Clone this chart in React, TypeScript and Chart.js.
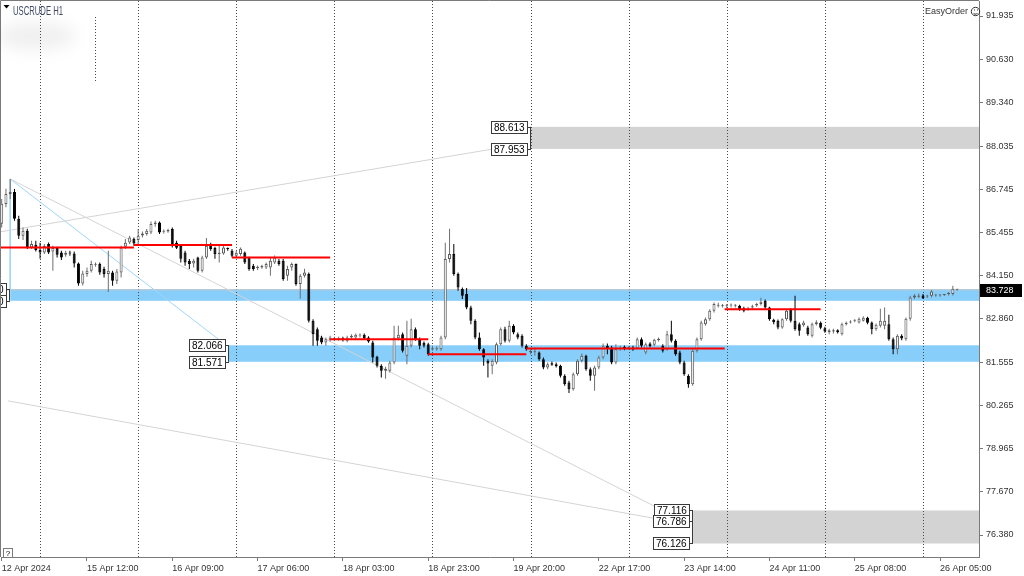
import React, { useEffect, useRef } from 'react';
import { Chart, registerables } from 'chart.js';

Chart.register(...registerables);

// USCRUDE H1, one bar per hour from 12 Apr 15:00 to 26 Apr 09:00 (23 bars a day, 01:00-23:00)
const opens = [
  85.71, 86.30, 86.60, 86.66, 85.86, 85.35, 85.50, 85.00, 85.08, 84.92,
  84.85, 85.10, 84.88, 84.98, 84.85, 84.78, 84.85, 84.82, 84.52, 83.92,
  84.20, 84.30, 84.48, 84.50, 84.35, 84.20, 84.25, 84.00, 84.25, 85.02,
  85.15, 85.26, 85.22, 85.36, 85.40, 85.45, 85.70, 85.75, 85.47, 85.48,
  85.55, 85.14, 85.05, 84.85, 84.60, 84.52, 84.70, 84.30, 84.70, 85.10,
  84.98, 84.80, 84.82, 84.96, 84.90, 84.75, 84.80, 84.85, 84.70, 84.45,
  84.38, 84.40, 84.40, 84.40, 84.55, 84.60, 84.60, 84.15, 84.40, 84.50,
  83.90, 84.15, 84.20, 82.80, 82.55, 82.30, 82.15, 82.22, 82.26, 82.24,
  82.28, 82.20, 82.30, 82.30, 82.36, 82.38, 82.30, 82.15, 81.72, 81.45,
  81.30, 81.30, 81.55, 82.28, 82.40, 81.75, 82.05, 82.55, 82.25, 82.14,
  82.10, 81.94, 81.95, 81.95, 82.30, 84.65, 84.80, 84.20, 83.75, 83.60,
  83.20, 82.80, 82.30, 81.95, 81.60, 81.45, 81.55, 82.10, 82.55, 82.20,
  82.65, 82.40, 82.35, 82.05, 81.86, 81.86, 81.85, 81.65, 81.40, 81.53,
  81.50, 81.45, 81.15, 80.95, 80.75, 81.20, 81.60, 81.75, 81.35, 81.15,
  81.40, 81.70, 82.05, 82.00, 81.55, 81.95, 82.02, 81.98, 82.00, 81.98,
  82.25, 81.85, 82.12, 82.08, 82.22, 82.05, 81.95, 82.40, 82.20, 81.85,
  81.55, 81.15, 80.90, 81.90, 82.25, 82.70, 82.85, 83.10, 83.25, 83.24,
  83.24, 83.26, 83.25, 83.25, 83.18, 83.14, 83.20, 83.26, 83.30, 83.40,
  83.20, 82.83, 82.80, 82.60, 82.85, 83.15, 82.80, 82.70, 82.67, 82.60,
  82.35, 82.70, 82.74, 82.58, 82.46, 82.48, 82.52, 82.40, 82.70, 82.75,
  82.80, 82.75, 82.80, 82.89, 82.75, 82.55, 82.65, 82.65, 82.70, 82.25,
  81.95, 82.35, 82.25, 82.86, 83.50, 83.52, 83.56, 83.53, 83.55, 83.56,
  83.56, 83.57, 83.60, 83.60, 83.73,
];
const highs = [
  86.45, 86.76, 87.05, 86.75, 85.95, 85.60, 85.56, 85.20, 85.20, 85.14,
  85.10, 85.15, 85.05, 85.02, 84.90, 84.90, 84.90, 84.88, 84.55, 84.30,
  84.40, 84.60, 84.55, 84.55, 84.42, 84.90, 84.30, 84.35, 85.05, 85.25,
  85.35, 85.30, 85.55, 85.48, 85.55, 85.78, 85.80, 85.78, 85.54, 85.56,
  85.60, 85.20, 85.10, 84.90, 84.65, 84.66, 84.72, 84.75, 85.28, 85.14,
  85.02, 85.05, 85.05, 85.00, 84.95, 84.90, 85.00, 84.88, 84.72, 84.50,
  84.46, 84.48, 84.55, 84.70, 84.76, 84.65, 84.65, 84.45, 84.55, 84.52,
  84.20, 84.36, 84.25, 82.85, 82.60, 82.35, 82.30, 82.35, 82.32, 82.32,
  82.32, 82.35, 82.40, 82.42, 82.42, 82.42, 82.34, 82.20, 81.75, 81.50,
  81.42, 81.60, 82.65, 82.65, 82.45, 82.80, 82.86, 82.60, 82.30, 82.18,
  82.14, 82.05, 82.04, 82.35, 85.14, 85.56, 85.10, 84.25, 83.80, 83.78,
  83.25, 82.85, 82.45, 81.98, 81.65, 81.65, 82.15, 82.60, 82.62, 82.80,
  82.70, 82.45, 82.40, 82.10, 81.95, 82.00, 81.88, 81.70, 81.55, 81.58,
  81.55, 81.48, 81.20, 81.00, 81.25, 81.65, 81.82, 81.78, 81.40, 81.45,
  81.75, 82.12, 82.12, 82.05, 82.10, 82.05, 82.06, 82.04, 82.05, 82.30,
  82.30, 82.15, 82.16, 82.26, 82.30, 82.10, 82.50, 82.80, 82.25, 81.90,
  81.60, 81.20, 81.95, 82.30, 82.80, 82.90, 83.15, 83.35, 83.34, 83.30,
  83.30, 83.32, 83.30, 83.28, 83.22, 83.22, 83.28, 83.34, 83.49, 83.44,
  83.22, 82.86, 82.84, 82.88, 83.15, 83.18, 83.55, 82.75, 82.80, 82.65,
  82.75, 82.82, 82.78, 82.62, 82.56, 82.56, 82.55, 82.74, 82.78, 82.82,
  82.85, 82.90, 82.94, 82.92, 82.78, 82.72, 83.16, 83.20, 82.98, 82.30,
  82.40, 82.40, 82.90, 83.55, 83.60, 83.62, 83.60, 83.58, 83.72, 83.60,
  83.60, 83.60, 83.66, 83.85, 83.76,
];
const lows = [
  85.60, 86.20, 86.45, 85.80, 85.25, 85.22, 84.95, 84.95, 84.88, 84.66,
  84.80, 84.80, 84.30, 84.70, 84.62, 84.72, 84.75, 84.40, 83.85, 83.86,
  84.12, 84.25, 84.42, 84.18, 84.10, 83.66, 83.85, 83.90, 84.10, 84.95,
  85.10, 85.05, 85.05, 85.30, 85.35, 85.40, 85.62, 85.40, 85.42, 85.44,
  85.00, 84.95, 84.55, 84.45, 84.35, 84.40, 84.25, 84.25, 84.65, 84.90,
  84.66, 84.55, 84.78, 84.90, 84.70, 84.70, 84.75, 84.50, 84.30, 84.30,
  84.32, 84.36, 84.35, 84.15, 84.50, 84.45, 84.00, 84.00, 84.30, 83.85,
  83.46, 84.10, 82.75, 82.05, 82.05, 82.10, 82.05, 82.18, 82.20, 82.20,
  82.18, 82.16, 82.26, 82.26, 82.30, 82.24, 82.14, 81.55, 81.40, 81.10,
  81.06, 81.25, 81.50, 82.22, 81.85, 81.50, 82.00, 82.20, 81.95, 82.00,
  81.75, 81.90, 81.90, 81.90, 82.25, 84.55, 84.15, 83.70, 83.45, 83.15,
  82.70, 82.25, 81.90, 81.45, 81.10, 81.20, 81.50, 82.05, 82.15, 82.15,
  82.40, 82.25, 82.00, 81.90, 81.80, 81.75, 81.60, 81.35, 81.35, 81.45,
  81.40, 81.10, 80.85, 80.64, 80.70, 81.15, 81.55, 81.30, 81.00, 80.70,
  81.35, 81.65, 81.80, 81.50, 81.50, 81.90, 81.92, 81.94, 81.90, 81.95,
  82.00, 81.80, 82.00, 82.04, 82.18, 81.85, 81.90, 82.15, 81.75, 81.50,
  81.15, 80.79, 80.85, 81.85, 82.20, 82.65, 82.80, 83.05, 83.20, 83.20,
  83.18, 83.20, 83.20, 83.10, 83.06, 83.10, 83.16, 83.22, 83.26, 83.16,
  82.80, 82.70, 82.55, 82.56, 82.80, 82.75, 82.50, 82.35, 82.62, 82.35,
  82.30, 82.66, 82.55, 82.44, 82.40, 82.42, 82.42, 82.36, 82.66, 82.72,
  82.76, 82.72, 82.78, 82.70, 82.40, 82.50, 82.60, 82.55, 82.20, 81.80,
  81.80, 82.22, 82.20, 82.80, 83.45, 83.48, 83.45, 83.48, 83.50, 83.52,
  83.52, 83.54, 83.56, 83.56, 83.70,
];
const closes = [
  86.31, 86.60, 86.66, 85.86, 85.35, 85.50, 85.00, 85.10, 84.92, 84.85,
  85.04, 84.85, 84.98, 84.78, 84.70, 84.84, 84.82, 84.52, 83.92, 84.22,
  84.30, 84.50, 84.50, 84.25, 84.20, 84.30, 84.00, 84.28, 85.00, 85.14,
  85.30, 85.12, 85.35, 85.42, 85.50, 85.70, 85.75, 85.45, 85.48, 85.52,
  85.05, 84.99, 84.66, 84.55, 84.50, 84.60, 84.30, 84.70, 85.05, 84.95,
  84.80, 84.84, 85.00, 84.95, 84.75, 84.84, 84.96, 84.55, 84.35, 84.35,
  84.42, 84.44, 84.50, 84.60, 84.70, 84.50, 84.05, 84.35, 84.50, 83.90,
  84.15, 84.25, 82.80, 82.40, 82.20, 82.15, 82.25, 82.30, 82.27, 82.28,
  82.22, 82.30, 82.35, 82.38, 82.36, 82.28, 82.18, 81.70, 81.45, 81.30,
  81.36, 81.55, 82.30, 82.38, 81.90, 82.05, 82.55, 82.25, 82.05, 82.05,
  81.80, 81.98, 81.98, 82.30, 84.65, 84.80, 84.20, 83.80, 83.55, 83.20,
  82.80, 82.30, 81.95, 81.70, 81.52, 81.60, 82.10, 82.55, 82.20, 82.65,
  82.45, 82.30, 82.05, 81.95, 81.90, 81.88, 81.65, 81.40, 81.50, 81.48,
  81.44, 81.15, 80.90, 80.75, 81.20, 81.60, 81.75, 81.35, 81.15, 81.40,
  81.70, 82.05, 81.98, 81.55, 81.95, 82.00, 81.96, 81.99, 81.94, 82.25,
  82.05, 82.10, 82.04, 82.23, 82.26, 81.90, 82.40, 82.20, 81.80, 81.55,
  81.20, 80.90, 81.90, 82.25, 82.75, 82.85, 83.10, 83.30, 83.28, 83.26,
  83.27, 83.27, 83.25, 83.14, 83.10, 83.17, 83.24, 83.30, 83.37, 83.20,
  82.85, 82.76, 82.60, 82.85, 83.10, 82.80, 82.55, 82.50, 82.75, 82.40,
  82.70, 82.76, 82.59, 82.48, 82.52, 82.52, 82.46, 82.70, 82.74, 82.78,
  82.80, 82.86, 82.89, 82.74, 82.55, 82.68, 82.80, 82.80, 82.25, 81.95,
  82.35, 82.27, 82.86, 83.50, 83.56, 83.56, 83.48, 83.53, 83.68, 83.56,
  83.56, 83.57, 83.63, 83.76, 83.73,
];

// axis
const priceTicks = [91.935, 90.63, 89.34, 88.035, 86.745, 85.455, 84.15, 82.86, 81.555, 80.265, 78.965, 77.67, 76.38];
const timeTickBars = [0, 20, 40, 60, 80, 100, 120, 140, 160, 180, 200, 220];
const timeTickLabels = [
  '12 Apr 2024', '15 Apr 12:00', '16 Apr 09:00', '17 Apr 06:00', '18 Apr 03:00', '18 Apr 23:00',
  '19 Apr 20:00', '22 Apr 17:00', '23 Apr 14:00', '24 Apr 11:00', '25 Apr 08:00', '26 Apr 05:00',
];
// first bar of each day (period separators)
const daySeparators = [9, 32, 55, 78, 101, 124, 147, 170, 193, 216];
const lastPrice = 83.728;

// red daily levels
const levelFromBar = [-0.16, 31, 54, 77, 100, 123, 169.5];
const levelToBar = [31, 54, 77, 100, 123, 169.5, 192];
const levelPrice = [85.0, 85.07, 84.7, 82.25, 81.8, 81.97, 83.15];

// rectangles (run to the right edge)
const zoneFromBar = [2, 53.3, 124, 162.1];
const zoneTop = [83.75, 82.066, 88.613, 77.116];
const zoneBottom = [83.4, 81.571, 87.953, 76.126];
const zoneLabels = [[83.75, 83.4], [82.066, 81.571], [88.613, 87.953], [77.116, 76.786, 76.126]];

// trend lines
const trendFromBar = [-0.16, 2, 1.5, 2, 2];
const trendFromPrice = [85.47, 87.05, 80.4, 87.05, 87.05];
const trendToBar = [115.2, 153.4, 153.4, 51.6, 2];
const trendToPrice = [87.95, 77.22, 76.87, 82.17, 83.75];

const X_MIN = -0.16;
const X_MAX = 229.13;
const Y_MIN = 75.721;
const Y_MAX = 92.385;

const ZONE_FILLS = ['#87cefa', '#87cefa', '#d3d3d3', '#d3d3d3'];
const TREND_COLORS = ['#d4d4d4', '#d4d4d4', '#d4d4d4', '#9fd6f8', '#9fd6f8'];
const FONT = "'Liberation Sans', Arial, sans-serif";

const drawingsPlugin = {
  id: 'mtDrawings',
  beforeDatasetsDraw(chart: any) {
    const { ctx, chartArea: a, scales } = chart;
    ctx.save();
    ctx.beginPath();
    ctx.rect(a.left, a.top, a.right - a.left, a.bottom - a.top);
    ctx.clip();
    zoneFromBar.forEach((b, k) => {
      const x0 = scales.x.getPixelForValue(b);
      const yt = scales.y.getPixelForValue(zoneTop[k]);
      const yb = scales.y.getPixelForValue(zoneBottom[k]);
      ctx.fillStyle = ZONE_FILLS[k];
      ctx.fillRect(x0, yt, a.right - x0, yb - yt);
    });
    ctx.strokeStyle = '#4a4a4a';
    ctx.lineWidth = 1;
    ctx.setLineDash([1, 2]);
    daySeparators.forEach((b) => {
      const x = Math.round(scales.x.getPixelForValue(b)) + 0.5;
      ctx.beginPath();
      ctx.moveTo(x, a.top);
      ctx.lineTo(x, a.bottom);
      ctx.stroke();
    });
    // short separator left in the title area
    ctx.beginPath();
    ctx.moveTo(95.5, 17);
    ctx.lineTo(95.5, 82);
    ctx.stroke();
    ctx.restore();
  },
  afterDatasetsDraw(chart: any) {
    const { ctx, scales } = chart;
    ctx.save();
    ctx.font = `10px ${FONT}`;
    ctx.textBaseline = 'middle';
    zoneFromBar.forEach((b, k) => {
      const x0 = Math.round(scales.x.getPixelForValue(b));
      const yt = scales.y.getPixelForValue(zoneTop[k]);
      const yb = scales.y.getPixelForValue(zoneBottom[k]);
      ctx.strokeStyle = '#3a3a3a';
      ctx.lineWidth = 1;
      ctx.beginPath();
      ctx.moveTo(x0 - 0.5, yt);
      ctx.lineTo(x0 - 0.5, yb);
      ctx.stroke();
      zoneLabels[k].forEach((p) => {
        const txt = p.toFixed(3);
        const w = Math.ceil(ctx.measureText(txt).width) + 5;
        const y = Math.round(scales.y.getPixelForValue(p));
        const xr = x0 - 4;
        ctx.fillStyle = '#ffffff';
        ctx.fillRect(xr - w, y - 6, w, 13);
        ctx.strokeStyle = '#3a3a3a';
        ctx.strokeRect(xr - w + 0.5, y - 5.5, w, 12);
        ctx.beginPath();
        ctx.moveTo(xr, y + 0.5);
        ctx.lineTo(x0, y + 0.5);
        ctx.stroke();
        ctx.fillStyle = '#000000';
        ctx.textAlign = 'left';
        ctx.fillText(txt, xr - w + 3, y + 1);
      });
    });
    ctx.restore();
  },
  afterDraw(chart: any) {
    const { ctx, chartArea: a, scales } = chart;
    ctx.save();
    // frame top / left
    ctx.strokeStyle = '#7a7a7a';
    ctx.lineWidth = 1;
    ctx.beginPath();
    ctx.moveTo(a.left - 0.5, a.bottom);
    ctx.lineTo(a.left - 0.5, a.top - 0.5);
    ctx.lineTo(a.right, a.top - 0.5);
    ctx.stroke();

    // blurred symbol caption
    ctx.save();
    ctx.filter = 'blur(8px)';
    ctx.fillStyle = 'rgba(0,0,0,0.06)';
    ctx.beginPath();
    ctx.ellipse(36, 36, 40, 14, 0, 0, Math.PI * 2);
    ctx.fill();
    ctx.restore();
    ctx.fillStyle = '#000';
    ctx.beginPath();
    ctx.moveTo(3.5, 5);
    ctx.lineTo(9.5, 5);
    ctx.lineTo(6.5, 8.5);
    ctx.closePath();
    ctx.fill();
    ctx.save();
    ctx.filter = 'blur(0.7px)';
    ctx.fillStyle = '#3f4a66';
    ctx.font = `13px ${FONT}`;
    ctx.textBaseline = 'middle';
    ctx.fillText('USCRUDE H1', 13, 11, 50);
    ctx.restore();

    // EasyOrder
    ctx.fillStyle = '#333';
    ctx.font = `9px ${FONT}`;
    ctx.textAlign = 'right';
    ctx.textBaseline = 'middle';
    ctx.fillText('EasyOrder', 968, 11.5);
    ctx.strokeStyle = '#333';
    ctx.beginPath();
    ctx.arc(975.5, 11.5, 4.2, 0, Math.PI * 2);
    ctx.stroke();
    ctx.beginPath();
    ctx.arc(975.5, 12, 2.2, 0.15 * Math.PI, 0.85 * Math.PI);
    ctx.stroke();
    ctx.fillStyle = '#333';
    ctx.fillRect(974, 9.5, 1, 1);
    ctx.fillRect(977, 9.5, 1, 1);

    // last price tag
    const yp = Math.round(scales.y.getPixelForValue(lastPrice));
    ctx.fillStyle = '#000';
    ctx.fillRect(980, yp - 6, 42, 13);
    ctx.fillStyle = '#fff';
    ctx.textAlign = 'left';
    ctx.font = `9px ${FONT}`;
    ctx.fillText(lastPrice.toFixed(3), 986, yp + 0.5);

    // help box
    ctx.fillStyle = '#fff';
    ctx.fillRect(3, 548, 10, 10);
    ctx.strokeStyle = '#7a7a7a';
    ctx.strokeRect(3.5, 548.5, 9, 9);
    ctx.fillStyle = '#000';
    ctx.textAlign = 'center';
    ctx.font = `8px ${FONT}`;
    ctx.fillText('?', 8, 553.5);
    ctx.restore();
  },
};

const App: React.FC = () => {
  const canvasRef = useRef<HTMLCanvasElement>(null);

  useEffect(() => {
    if (!canvasRef.current) return;
    const bars = opens.map((_, i) => i);
    const up = bars.map((i) => closes[i] >= opens[i]);

    const levelSets = levelPrice.map((p, k) => ({
      type: 'line' as const,
      data: [{ x: levelFromBar[k], y: p }, { x: levelToBar[k], y: p }],
      borderColor: '#ff0000',
      borderWidth: 2,
      pointRadius: 0,
      fill: false,
      order: 0,
    }));
    const trendSets = trendFromBar.map((b, k) => ({
      type: 'line' as const,
      data: [{ x: b, y: trendFromPrice[k] }, { x: trendToBar[k], y: trendToPrice[k] }],
      borderColor: TREND_COLORS[k],
      borderWidth: 1,
      pointRadius: 0,
      fill: false,
      order: 3,
    }));

    const chart = new Chart(canvasRef.current, {
      type: 'bar',
      data: {
        datasets: [
          ...levelSets,
          {
            type: 'bar',
            data: bars.map((i) => ({ x: i, y: [opens[i], closes[i]] })),
            backgroundColor: up.map((u) => (u ? '#ffffff' : '#000000')),
            borderColor: up.map((u) => (u ? '#5a5a5a' : '#000000')),
            borderWidth: 1,
            borderSkipped: false,
            barThickness: 3,
            minBarLength: 1,
            grouped: false,
            inflateAmount: 0,
            order: 1,
          },
          {
            type: 'bar',
            data: bars.map((i) => ({ x: i, y: [lows[i], highs[i]] })),
            backgroundColor: up.map((u) => (u ? '#6e6e6e' : '#000000')),
            borderWidth: 0,
            barThickness: 1,
            grouped: false,
            inflateAmount: 0,
            order: 2,
          },
          ...trendSets,
          {
            type: 'line',
            data: [{ x: X_MIN, y: lastPrice }, { x: X_MAX, y: lastPrice }],
            borderColor: '#c8c8c8',
            borderWidth: 1,
            pointRadius: 0,
            fill: false,
            order: 4,
          },
        ] as any,
      },
      options: {
        animation: false,
        responsive: true,
        maintainAspectRatio: false,
        layout: { padding: { left: 1, top: 1, right: 0, bottom: 0 } },
        plugins: {
          legend: { display: false },
          tooltip: { enabled: false },
        },
        scales: {
          x: {
            type: 'linear',
            min: X_MIN,
            max: X_MAX,
            offset: false,
            grid: { offset: false, drawOnChartArea: false, drawTicks: true, tickLength: 4, color: '#7a7a7a' },
            border: { display: true, color: '#7a7a7a' },
            ticks: {
              autoSkip: false,
              maxRotation: 0,
              align: 'start',
              padding: 2,
              color: '#333333',
              font: { family: FONT, size: 9 },
              callback: (v: any) => {
                const k = timeTickBars.indexOf(Number(v));
                return k >= 0 ? timeTickLabels[k] : '';
              },
            },
            afterBuildTicks: (axis: any) => {
              axis.ticks = timeTickBars.map((v) => ({ value: v }));
            },
            afterFit: (axis: any) => {
              axis.height = 19;
              axis.paddingLeft = 0;
              axis.paddingRight = 0;
            },
          },
          y: {
            type: 'linear',
            position: 'right',
            min: Y_MIN,
            max: Y_MAX,
            grid: { drawOnChartArea: false, drawTicks: true, tickLength: 4, color: '#7a7a7a' },
            border: { display: true, color: '#7a7a7a' },
            ticks: {
              padding: 3,
              color: '#333333',
              font: { family: FONT, size: 9 },
              callback: (v: any) => Number(v).toFixed(3),
            },
            afterBuildTicks: (axis: any) => {
              axis.ticks = priceTicks.map((v) => ({ value: v }));
            },
            afterFit: (axis: any) => {
              axis.width = 45;
              axis.paddingTop = 0;
              axis.paddingBottom = 0;
            },
          },
        },
      } as any,
      plugins: [drawingsPlugin],
    });

    return () => {
      chart.destroy();
    };
  }, []);

  return (
    <div style={{ position: 'fixed', left: 0, top: 0, width: 1024, height: 576, background: '#ffffff' }}>
      <canvas ref={canvasRef} />
    </div>
  );
};

export default App;
